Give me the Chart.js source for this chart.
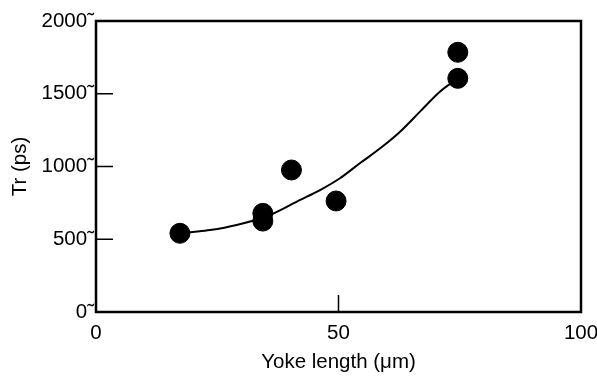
<!DOCTYPE html>
<html lang="en">
<head>
  <meta charset="UTF-8">
  <title>Tr vs yoke length</title>
  <script src="https://cdn.jsdelivr.net/npm/chart.js"></script>
  <style>
    html, body { margin: 0; padding: 0; background: #fff; }
    #wrap { width: 597px; height: 376px; }
  </style>
</head>
<body>
<div id="wrap"><canvas id="trChart" width="597" height="376"></canvas></div>

<script>
// measured points
const yokeLength = [17.3, 34.4, 34.4, 40.3, 49.5, 74.6, 74.6];
const riseTime = [541, 678, 625, 976, 763, 1785, 1606];

// hand-drawn trend curve
const fitLength = [17.3, 20, 23.5, 29, 35.9, 42.1, 46.2, 50.3, 54.4, 58.6, 62.7, 66.8, 70.9, 74.6];
const fitRise = [541, 550, 563, 598, 667, 770, 838, 919, 1022, 1125, 1239, 1377, 1514, 1606];

const xTicks = [0, 50, 100];
const yTicks = [0, 500, 1000, 1500, 2000];
const innerXTicks = [50];
const innerYTicks = [500, 1000, 1500];

const FONT = "'Liberation Sans', Arial, sans-serif";

// frame box + short inward tick marks
const frame = {
  id: 'frame',
  afterDatasetsDraw(chart) {
    const { ctx, chartArea: a, scales } = chart;
    ctx.save();
    ctx.strokeStyle = '#000';
    ctx.lineWidth = 1.5;
    ctx.beginPath();
    innerYTicks.forEach(v => {
      const y = scales.y.getPixelForValue(v);
      ctx.moveTo(a.left, y);
      ctx.lineTo(a.left + 17, y);
    });
    innerXTicks.forEach(v => {
      const x = scales.x.getPixelForValue(v);
      ctx.moveTo(x, a.bottom);
      ctx.lineTo(x, a.bottom - 17);
    });
    ctx.stroke();
    ctx.lineWidth = 2.5;
    ctx.strokeRect(a.left, a.top, a.right - a.left, a.bottom - a.top);
    ctx.restore();
  }
};

new Chart(document.getElementById('trChart'), {
  type: 'scatter',
  data: {
    datasets: [
      {
        data: yokeLength.map((x, i) => ({ x, y: riseTime[i] })),
        backgroundColor: '#000',
        borderColor: '#000',
        pointRadius: 10,
        order: 0
      },
      {
        data: fitLength.map((x, i) => ({ x, y: fitRise[i] })),
        showLine: true,
        borderColor: '#000',
        borderWidth: 2,
        pointRadius: 0,
        cubicInterpolationMode: 'monotone',
        order: 1
      }
    ]
  },
  options: {
    responsive: false,
    animation: false,
    events: [],
    layout: { padding: { left: 0, right: 16, top: 21, bottom: 0 } },
    plugins: { legend: { display: false }, tooltip: { enabled: false } },
    scales: {
      x: {
        min: 0, max: 100,
        afterBuildTicks: s => { s.ticks = xTicks.map(v => ({ value: v })); },
        afterFit: s => { s.height = 64; s.paddingLeft = 0; s.paddingRight = 0; },
        grid: { display: false, drawTicks: false },
        border: { display: false },
        ticks: { color: '#000', padding: 9, font: { family: FONT, size: 20.5 }, maxRotation: 0 },
        title: {
          display: true, text: 'Yoke length (\u03bcm)', color: '#000',
          font: { family: FONT, size: 20.5 }, padding: { top: 0, bottom: 1 }
        }
      },
      y: {
        min: 0, max: 2000,
        afterBuildTicks: s => { s.ticks = yTicks.map(v => ({ value: v })); },
        afterFit: s => { s.width = 96; s.paddingTop = 0; s.paddingBottom = 0; },
        grid: { display: false, drawTicks: false },
        border: { display: false },
        ticks: {
          color: '#000', padding: 2, font: { family: FONT, size: 20.5 },
          callback: v => v + '\u02dc'
        },
        title: {
          display: true, text: 'Tr (ps)', color: '#000',
          font: { family: FONT, size: 20.5 }, padding: { top: 8, bottom: 0 }
        }
      }
    }
  },
  plugins: [frame]
});
</script>
</body>
</html>
